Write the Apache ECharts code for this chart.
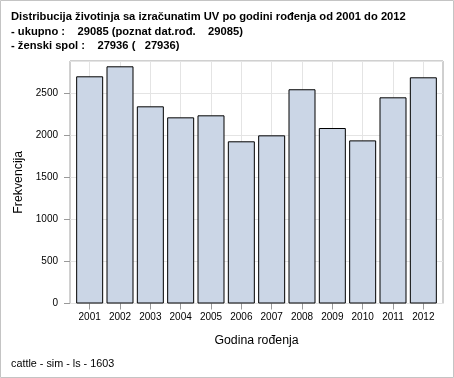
<!DOCTYPE html>
<html>
<head>
<meta charset="utf-8">
<script src="https://cdn.jsdelivr.net/npm/echarts@6/dist/echarts.min.js"></script>
<style>
  html, body { margin: 0; padding: 0; background: #fff; }
  #chart { width: 454px; height: 378px; }
</style>
</head>
<body>
<div id="chart"></div>
<script>
// podaci očitani sa slike
const years = ['2001', '2002', '2003', '2004', '2005', '2006', '2007', '2008', '2009', '2010', '2011', '2012']
const counts = [2702, 2821, 2345, 2214, 2238, 1929, 2000, 2548, 2087, 1940, 2452, 2690]
const yMax = 2884
const titleLines = [
  'Distribucija životinja sa izračunatim UV po godini rođenja od 2001 do 2012',
  '- ukupno :    29085 (poznat dat.rođ.    29085)',
  '- ženski spol :    27936 (   27936)'
]
const footer = 'cattle - sim - ls - 1603'

const font = "'Liberation Sans', Arial, sans-serif"
const chart = echarts.init(document.getElementById('chart'))

// širina jedne kategorije u unutarnjem gridu (364px / 12)
const band = 364 / years.length

const option = {
  animation: false,
  backgroundColor: '#fff',
  title: [{
    text: titleLines.join('\n'),
    left: 11,
    top: 10,
    padding: 0,
    textStyle: { fontFamily: font, fontSize: 11.2, fontWeight: 'bold', color: '#000', lineHeight: 14.4 }
  }, {
    text: footer,
    left: 11,
    top: 359,
    padding: 0,
    textStyle: { fontFamily: font, fontSize: 10.8, fontWeight: 'normal', color: '#000' }
  }],
  graphic: [{
    type: 'rect',
    shape: { x: 0.5, y: 0.5, width: 453, height: 377 },
    style: { fill: 'none', stroke: '#c4c4c4', lineWidth: 1 },
    silent: true
  }],
  grid: [
    // okvir i horizontalne linije
    { left: 70, top: 61, right: 11, bottom: 74.5, show: true, borderColor: '#a0a0a0', borderWidth: 1, backgroundColor: 'transparent' },
    // stupci
    { left: 74.5, top: 61, right: 15.5, bottom: 74.5 },
    // vertikalne linije kroz sredine kategorija
    { left: 74.5 + band / 2, top: 61, right: 15.5 + band / 2, bottom: 74.5 }
  ],
  xAxis: [{
    gridIndex: 0,
    type: 'value',
    show: false
  }, {
    gridIndex: 1,
    type: 'category',
    data: years,
    boundaryGap: true,
    name: 'Godina rođenja',
    nameLocation: 'middle',
    nameGap: 31,
    nameTextStyle: { fontFamily: font, fontSize: 12.3, color: '#000' },
    axisLine: { show: false },
    axisTick: { show: true, interval: 0, alignWithLabel: true, length: 6, lineStyle: { color: '#999' } },
    axisLabel: { interval: 0, fontFamily: font, fontSize: 10, color: '#000', margin: 9 },
    splitLine: { show: false }
  }, {
    gridIndex: 2,
    type: 'category',
    data: years,
    boundaryGap: false,
    axisLine: { show: false },
    axisTick: { show: false },
    axisLabel: { show: false },
    splitLine: { show: true, interval: 0, lineStyle: { color: '#e4e4e4', width: 1 } }
  }],
  yAxis: [{
    gridIndex: 0,
    type: 'value',
    min: 0,
    max: yMax,
    interval: 500,
    name: 'Frekvencija',
    nameLocation: 'middle',
    nameGap: 43,
    nameTextStyle: { fontFamily: font, fontSize: 12.3, color: '#000' },
    axisLine: { show: false },
    axisTick: { show: true, length: 6, lineStyle: { color: '#999' } },
    axisLabel: { fontFamily: font, fontSize: 10, color: '#000', margin: 12, showMaxLabel: false, formatter: v => String(v) },
    splitLine: { show: true, lineStyle: { color: '#e4e4e4', width: 1 } }
  }, {
    gridIndex: 1,
    type: 'value',
    min: 0,
    max: yMax,
    show: false
  }, {
    gridIndex: 2,
    type: 'value',
    min: 0,
    max: yMax,
    show: false
  }],
  series: [{
    type: 'bar',
    xAxisIndex: 1,
    yAxisIndex: 1,
    data: counts,
    barWidth: 27,
    itemStyle: { color: '#cbd6e6', borderColor: '#000', borderWidth: 1 }
  }]
}

chart.setOption(option)
</script>
</body>
</html>
